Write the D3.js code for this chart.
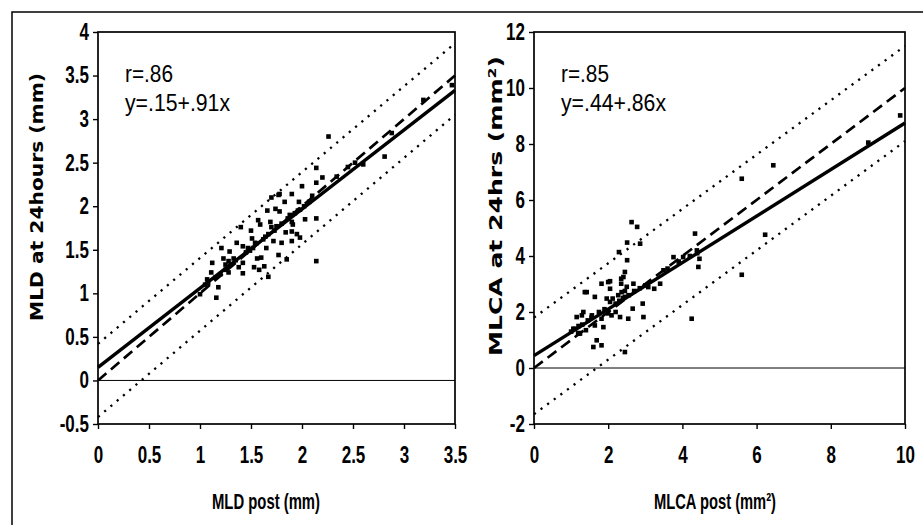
<!DOCTYPE html>
<html>
<head>
<meta charset="utf-8">
<script src="https://cdn.jsdelivr.net/npm/d3@7"></script>
<style>
  body { margin: 0; background: #fff; }
</style>
</head>
<body>
<script>
// left panel: MLD (mm)
const mldPost = [2.14,2.14,2.00,1.90,1.78,1.70,1.83,1.97,1.78,1.96,2.14,1.90,1.69,1.59,1.40,1.70,1.90,1.98,1.51,1.64,
  1.36,1.42,1.54,1.72,1.90,1.21,1.29,1.49,1.65,1.77,1.85,1.60,1.23,1.33,1.56,2.14,1.25,1.42,1.11,1.28,
  1.58,1.67,1.42,1.18,1.00,1.16,1.07,2.26,2.81,2.60,2.88,3.19,3.47,2.34,1.77,1.91,1.95,1.08,1.28,
  1.30,1.35,1.45,1.55,1.62,1.67,1.75,1.80,1.86,1.93,2.02,2.07,1.25,1.15,1.05,1.20,1.47,1.52,1.73,1.88,
  1.98,2.10,2.20,2.45,2.52,1.50,1.57,1.12,1.38,1.53,1.63,1.80,1.84,2.03,1.74,1.66]
const mld24 = [2.44,2.27,2.23,2.14,2.14,2.10,2.05,2.05,1.94,1.95,1.86,1.82,1.82,1.79,1.76,1.76,1.71,1.64,1.63,1.65,
  1.58,1.54,1.58,1.60,1.60,1.52,1.48,1.49,1.52,1.44,1.39,1.41,1.40,1.40,1.40,1.37,1.33,1.35,1.24,1.24,
  1.27,1.19,1.23,1.07,0.99,0.95,1.16,2.80,2.57,2.48,2.84,3.22,3.39,2.34,2.13,1.79,1.68,1.12,1.37,
  1.33,1.38,1.47,1.57,1.62,1.68,1.77,1.80,1.86,1.92,2.00,2.05,1.27,1.18,1.10,1.22,1.52,1.52,1.72,1.90,
  1.96,2.12,2.33,2.45,2.50,1.72,1.84,1.35,1.30,1.30,1.31,1.58,1.70,1.85,1.97,1.95]

// right panel: MLCA (mm²)
const mlcaPost = [2.63,2.78,2.51,2.86,2.29,2.51,2.45,2.35,2.35,2.05,1.82,2.68,1.37,1.64,1.96,2.12,2.36,2.45,2.93,3.24,
  3.40,3.08,3.49,3.76,4.02,4.34,4.39,4.46,4.43,4.25,2.66,2.95,2.54,2.32,2.09,1.82,1.87,1.64,1.56,1.33,
  1.15,1.06,1.24,1.69,1.82,1.60,2.45,2.05,2.27,6.23,5.60,2.00,2.05,2.41,6.45,5.60,9.01,9.87,
  1.00,1.10,1.20,1.30,1.45,1.55,1.75,1.90,2.20,2.40,2.55,2.70,2.85,3.00,3.60,3.90,4.20,4.40,1.20,1.40,
  2.30,2.45,2.50,2.20,2.00,1.42,1.29,1.19]
const mlca24 = [5.21,5.04,4.48,4.44,4.14,3.85,3.43,3.19,3.01,3.10,3.01,3.01,2.71,2.54,2.48,2.48,2.71,2.54,2.30,2.83,
  3.01,2.89,3.49,3.96,3.96,4.80,4.20,3.90,3.61,1.76,2.12,1.82,1.76,1.82,1.88,1.76,1.46,1.52,1.88,2.00,
  1.82,1.40,1.23,0.99,0.81,0.75,0.57,2.36,2.60,4.76,3.33,3.07,2.83,3.25,7.24,6.76,8.05,9.02,
  1.30,1.40,1.50,1.55,1.70,1.80,2.00,2.10,2.30,2.50,2.60,2.75,2.85,2.95,3.55,3.80,4.00,4.10,1.25,1.35,
  2.40,2.75,2.90,2.00,1.95,2.71,1.88,1.23]

// line end points at the two ends of the x domain
const mldFitY = [0.15, 3.33]
const mldIdentY = [0, 3.5]
const mldUpperY = [0.42, 3.87]
const mldLowerY = [-0.42, 3.05]
const mlcaFitY = [0.44, 8.75]
const mlcaIdentY = [0, 10]
const mlcaUpperY = [1.8, 11.5]
const mlcaLowerY = [-1.65, 8.1]

const mldTicksX = [0, 0.5, 1, 1.5, 2, 2.5, 3, 3.5]
const mldTicksY = [-0.5, 0, 0.5, 1, 1.5, 2, 2.5, 3, 3.5, 4]
const mlcaTicksX = [0, 2, 4, 6, 8, 10]
const mlcaTicksY = [-2, 0, 2, 4, 6, 8, 10, 12]

const w = 923
const h = 525
const plotTop = 32
const plotBottom = 424
const sans = '"Liberation Sans", Arial, sans-serif'

const svg = d3.select('body')
    .append('svg')
    .attr('width', w)
    .attr('height', h)

// outer frame
svg.append('rect')
    .attr('x', 12)
    .attr('y', 12)
    .attr('width', 940)
    .attr('height', 540)
    .attr('fill', 'none')
    .attr('stroke', '#000')
    .attr('stroke-width', 1.5)

// squeeze tick labels so they look like a narrow bold face
const narrowTicks = (axisG) => {
    axisG.selectAll('.tick line').attr('stroke', '#000').attr('stroke-width', 1.4)
    axisG.selectAll('.tick text')
        .style('font-family', sans)
        .style('font-weight', 'bold')
        .style('font-size', '23px')
        .attr('fill', '#000')
        .attr('transform', function () {
            const tx = +this.getAttribute('x') || 0
            return `translate(${tx},0) scale(0.74,1)`
        })
        .attr('x', 0)
}

const drawPanel = (p) => {
    const x = d3.scaleLinear().domain(p.xDomain).range([p.left, p.right])
    const y = d3.scaleLinear().domain(p.yDomain).range([plotBottom, plotTop])
    const g = svg.append('g')

    // zero line
    g.append('line')
        .attr('x1', p.left).attr('x2', p.right)
        .attr('y1', y(0)).attr('y2', y(0))
        .attr('stroke', '#000')
        .attr('stroke-width', 1)

    const lines = [
        { ys: p.upper, dash: '2.2,6', width: 2.3 },
        { ys: p.lower, dash: '2.2,6', width: 2.3 },
        { ys: p.ident, dash: '11,6', width: 2.7 },
        { ys: p.fit, dash: null, width: 3.4 }
    ]
    lines.forEach(l => {
        g.append('line')
            .attr('x1', x(p.xDomain[0])).attr('x2', x(p.xDomain[1]))
            .attr('y1', y(l.ys[0])).attr('y2', y(l.ys[1]))
            .attr('stroke', '#000')
            .attr('stroke-width', l.width)
            .attr('stroke-dasharray', l.dash)
    })

    g.selectAll('rect.pt')
        .data(p.xs.map((d, i) => [d, p.ys[i]]))
        .enter()
        .append('rect')
        .attr('class', 'pt')
        .attr('x', d => x(d[0]) - 2.3)
        .attr('y', d => y(d[1]) - 2.3)
        .attr('width', 4.6)
        .attr('height', 4.6)
        .attr('fill', '#000')

    // plot box
    g.append('rect')
        .attr('x', p.left).attr('y', plotTop)
        .attr('width', p.right - p.left).attr('height', plotBottom - plotTop)
        .attr('fill', 'none')
        .attr('stroke', '#000')
        .attr('stroke-width', 1.7)

    const xAxis = g.append('g')
        .attr('transform', `translate(0,${plotBottom})`)
        .call(d3.axisBottom(x).tickValues(p.xTicks).tickSize(5).tickSizeOuter(0).tickPadding(18).tickFormat(d => d))
    xAxis.select('.domain').remove()
    narrowTicks(xAxis)

    const yAxis = g.append('g')
        .attr('transform', `translate(${p.left},0)`)
        .call(d3.axisLeft(y).tickValues(p.yTicks).tickSize(5).tickSizeOuter(0).tickPadding(4).tickFormat(d => d))
    yAxis.select('.domain').remove()
    narrowTicks(yAxis)

    g.append('text')
        .attr('transform', `translate(${p.yTitleX},${p.yTitleY}) rotate(-90)`)
        .attr('text-anchor', 'middle')
        .attr('font-family', '"DejaVu Sans", sans-serif')
        .attr('font-weight', 'bold')
        .attr('font-size', 18)
        .attr('textLength', p.yTitleLen)
        .attr('lengthAdjust', 'spacingAndGlyphs')
        .text(p.yTitle)

    g.append('text')
        .attr('x', p.xTitleX)
        .attr('y', 509)
        .attr('text-anchor', 'middle')
        .attr('font-family', sans)
        .attr('font-weight', 'bold')
        .attr('font-size', 22)
        .attr('textLength', p.xTitleLen)
        .attr('lengthAdjust', 'spacingAndGlyphs')
        .text(p.xTitle)

    const note = g.append('text')
        .attr('font-family', sans)
        .attr('font-size', 24)
    note.append('tspan').attr('x', p.left + 27).attr('y', 82)
        .attr('textLength', 48).attr('lengthAdjust', 'spacingAndGlyphs').text(p.note[0])
    note.append('tspan').attr('x', p.left + 27).attr('y', 111)
        .attr('textLength', 105).attr('lengthAdjust', 'spacingAndGlyphs').text(p.note[1])
}

drawPanel({
    xs: mldPost, ys: mld24,
    xDomain: [0, 3.5], yDomain: [-0.5, 4],
    left: 98, right: 455,
    xTicks: mldTicksX, yTicks: mldTicksY,
    fit: mldFitY, ident: mldIdentY, upper: mldUpperY, lower: mldLowerY,
    yTitle: 'MLD at 24hours (mm)', yTitleX: 43, yTitleY: 197, yTitleLen: 248,
    xTitle: 'MLD post (mm)', xTitleX: 266, xTitleLen: 108,
    note: ['r=.86', 'y=.15+.91x']
})

drawPanel({
    xs: mlcaPost, ys: mlca24,
    xDomain: [0, 10], yDomain: [-2, 12],
    left: 534, right: 905,
    xTicks: mlcaTicksX, yTicks: mlcaTicksY,
    fit: mlcaFitY, ident: mlcaIdentY, upper: mlcaUpperY, lower: mlcaLowerY,
    yTitle: 'MLCA at 24hrs (mm²)', yTitleX: 502, yTitleY: 206, yTitleLen: 300,
    xTitle: 'MLCA post (mm²)', xTitleX: 715, xTitleLen: 122,
    note: ['r=.85', 'y=.44+.86x']
})
</script>
</body>
</html>
